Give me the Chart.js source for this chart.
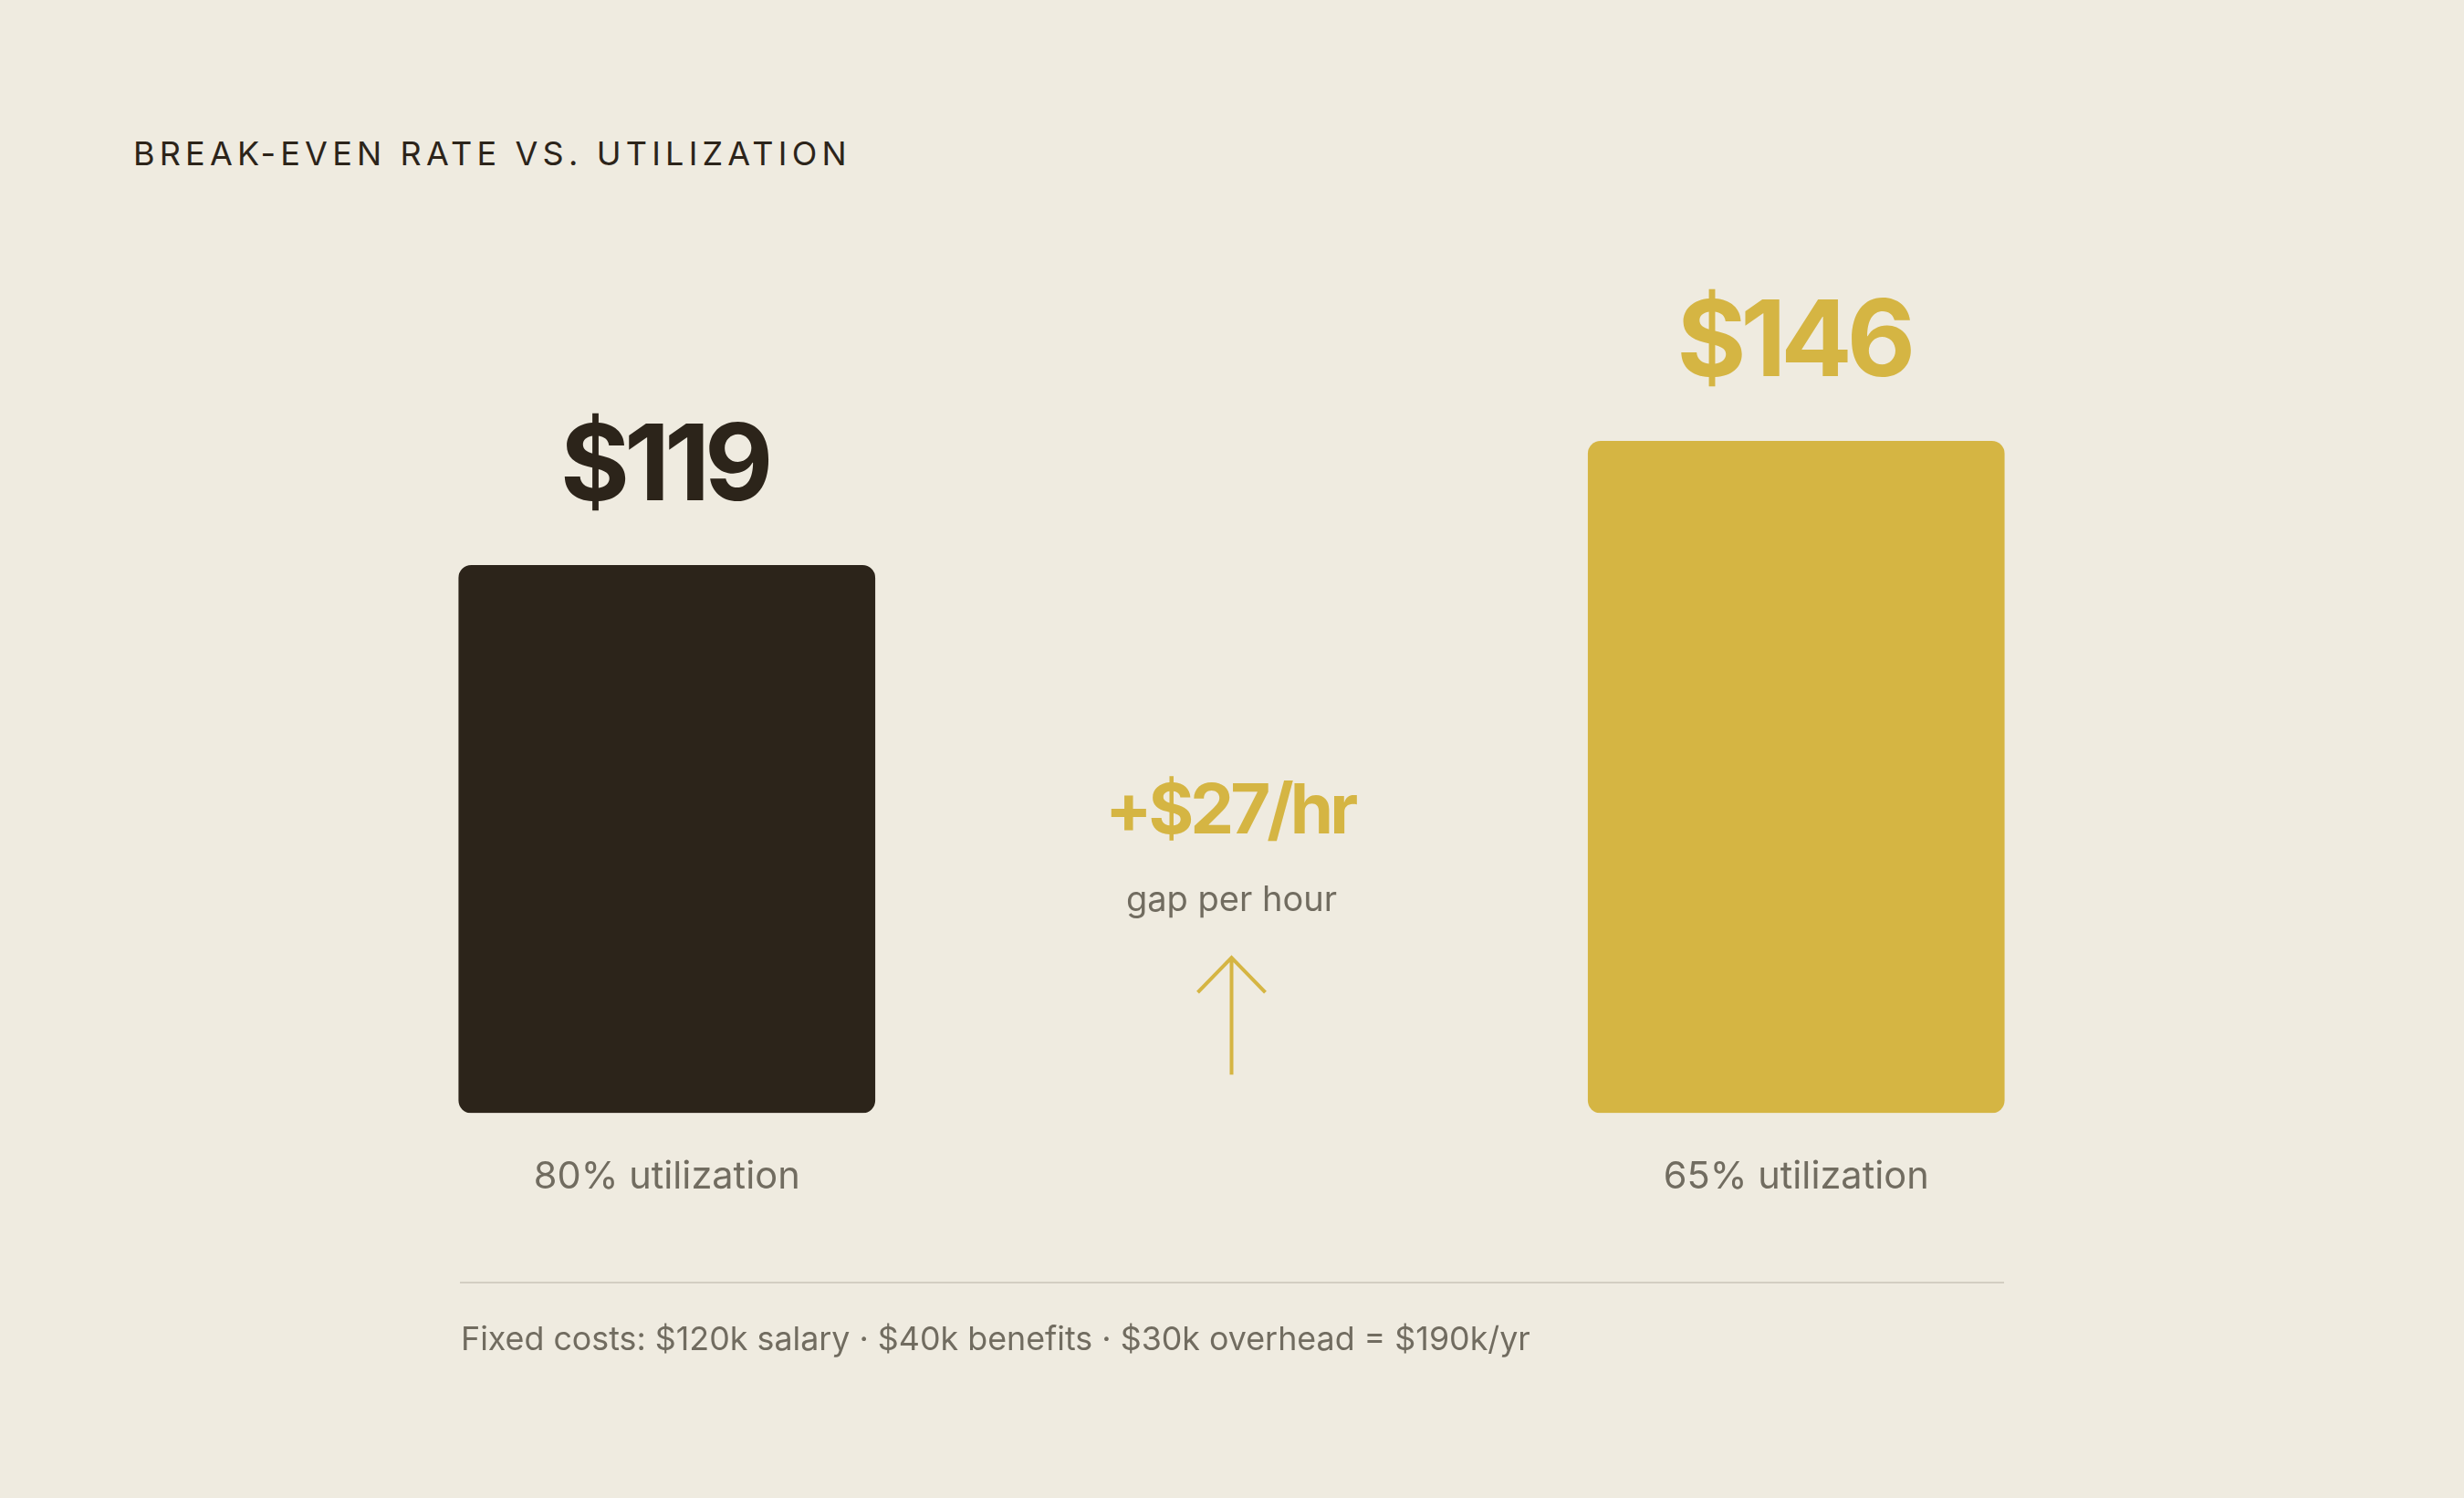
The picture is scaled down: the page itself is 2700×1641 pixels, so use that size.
<!DOCTYPE html>
<html>
<head>
<meta charset="utf-8">
<script src="https://cdn.jsdelivr.net/npm/chart.js@4.4.1/dist/chart.umd.min.js"></script>
<style>
  html, body { margin: 0; padding: 0; background: #efebe0; }
  body { width: 2700px; height: 1641px; position: relative; overflow: hidden; font-family: Inter, 'DejaVu Sans', sans-serif; }
  #chart { position: absolute; left: 0; top: 0; }
  .title { position: absolute; left: 146px; top: 150px; font-size: 36px; line-height: 1; letter-spacing: 5.2px; color: #2c241a; white-space: nowrap; }
  .rule { position: absolute; left: 504px; top: 1404px; width: 1692px; height: 2px; background: #d3cec2; }
  .note { position: absolute; left: 505px; top: 1449px; font-size: 35.8px; line-height: 1; color: #716c60; white-space: nowrap; }
</style>
</head>
<body>
<div class="title" id="title"></div>
<canvas id="chart" width="2700" height="1641"></canvas>
<div class="rule"></div>
<div class="note" id="note"></div>
<script>
'use strict';

// ── DATA ──────────────────────────────────────────────────────────
const TITLE      = 'BREAK-EVEN RATE VS. UTILIZATION';
const CATEGORIES = ['80% utilization', '65% utilization'];
const RATES      = [119, 146];
const GAP_LABEL  = 'gap per hour';
const FOOTNOTE   = 'Fixed costs: $120k salary · $40k benefits · $30k overhead = $190k/yr';

// ── COLOURS ───────────────────────────────────────────────────────
const BAR_COLORS = ['#2c241a', '#d5b543'];
const GOLD  = '#d5b543';
const MUTED = '#716c60';
const FONT  = "Inter, 'DejaVu Sans', sans-serif";

document.getElementById('title').textContent = TITLE;
document.getElementById('note').textContent = FOOTNOTE;

// value labels above each bar
const valueLabels = {
  id: 'valueLabels',
  afterDatasetsDraw(chart) {
    const { ctx } = chart;
    const bars = chart.getDatasetMeta(0).data;
    ctx.save();
    ctx.textAlign = 'center';
    ctx.textBaseline = 'alphabetic';
    ctx.font = `700 116px ${FONT}`;
    if ('letterSpacing' in ctx) ctx.letterSpacing = '-6px';
    bars.forEach((bar, i) => {
      ctx.fillStyle = BAR_COLORS[i];
      ctx.fillText('$' + RATES[i], bar.x - 3, bar.y - 71);
    });
    ctx.restore();
  }
};

// gap annotation between the bars
const gapNote = {
  id: 'gapNote',
  afterDatasetsDraw(chart) {
    const { ctx, chartArea } = chart;
    const bars = chart.getDatasetMeta(0).data;
    const x = (bars[0].x + bars[1].x) / 2;
    const gap = RATES[1] - RATES[0];
    ctx.save();
    ctx.textAlign = 'center';
    ctx.textBaseline = 'alphabetic';
    ctx.fillStyle = GOLD;
    ctx.font = `700 76px ${FONT}`;
    if ('letterSpacing' in ctx) ctx.letterSpacing = '-4px';
    ctx.fillText(`+$${gap}/hr`, x - 2, 913);
    if ('letterSpacing' in ctx) ctx.letterSpacing = '0px';
    ctx.fillStyle = MUTED;
    ctx.font = `400 38px ${FONT}`;
    ctx.fillText(GAP_LABEL, x, 998);

    // arrow
    const bottom = chartArea.bottom - 42;
    const tip = bottom - 129;
    ctx.strokeStyle = GOLD;
    ctx.lineWidth = 4;
    ctx.beginPath();
    ctx.moveTo(x, bottom);
    ctx.lineTo(x, tip);
    ctx.moveTo(x - 37, tip + 39);
    ctx.lineTo(x, tip + 1);
    ctx.lineTo(x + 37, tip + 39);
    ctx.stroke();
    ctx.restore();
  }
};

new Chart(document.getElementById('chart'), {
  type: 'bar',
  data: {
    labels: CATEGORIES,
    datasets: [{
      data: RATES,
      backgroundColor: BAR_COLORS,
      borderRadius: 14,
      borderSkipped: false,
      barThickness: 456
    }]
  },
  options: {
    responsive: false,
    devicePixelRatio: 1,
    animation: false,
    layout: { padding: { left: 112, right: 113, top: 211, bottom: 282 } },
    plugins: { legend: { display: false }, tooltip: { enabled: false } },
    scales: {
      x: {
        grid: { display: false, drawTicks: false },
        border: { display: false },
        ticks: { color: MUTED, padding: 45, font: { family: FONT, size: 41.5 } }
      },
      y: { display: false, min: 0, max: 200 }
    }
  },
  plugins: [valueLabels, gapNote]
});
</script>
</body>
</html>
